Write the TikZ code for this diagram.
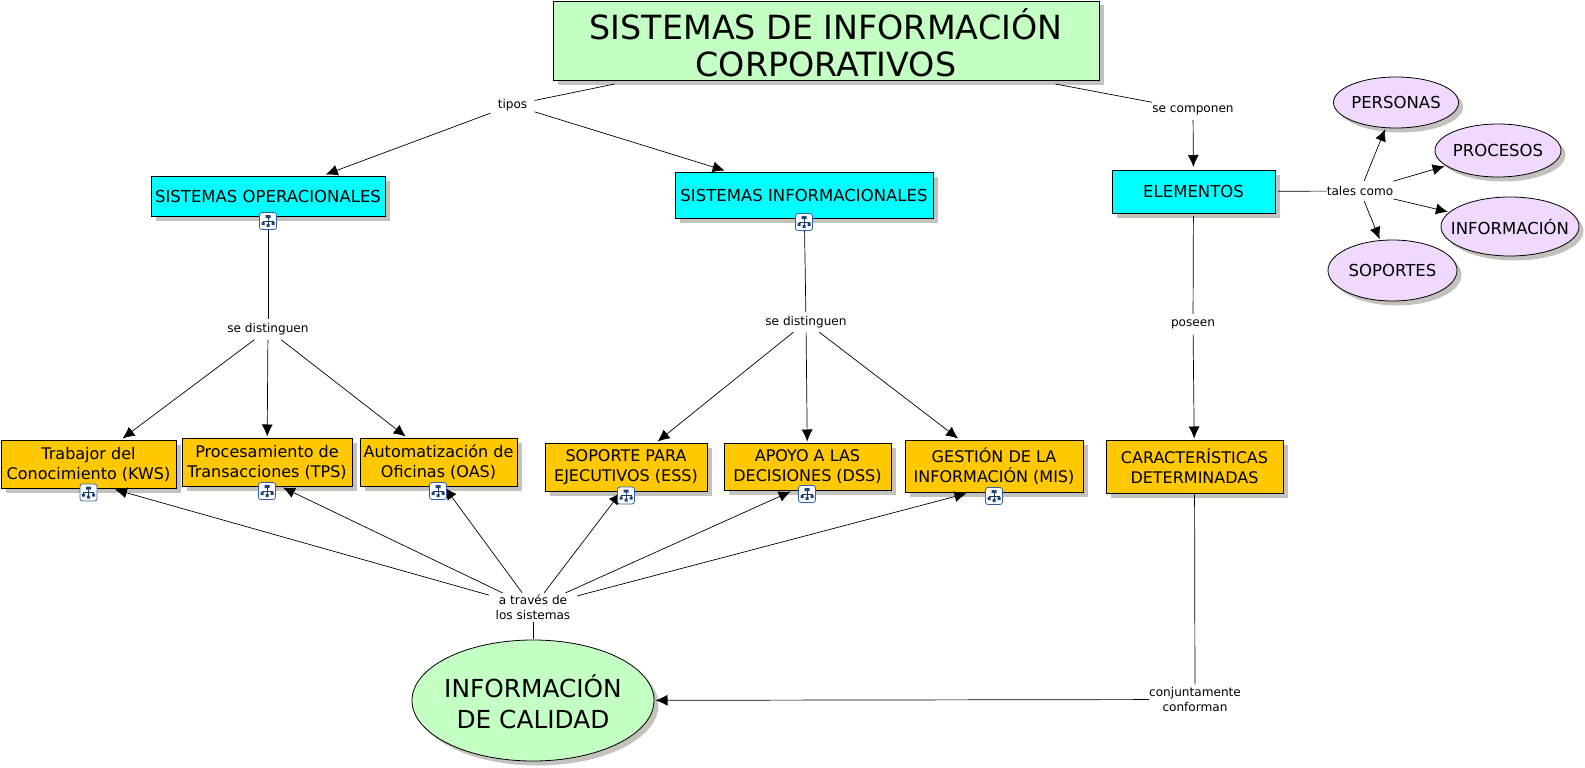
\documentclass[tikz,border=0pt]{standalone}
\usepackage{fontspec}
\setmainfont{DejaVu Sans}
\usetikzlibrary{arrows.meta,shapes.geometric,shadows}

\definecolor{mintfill}{HTML}{C4FFC4}
\definecolor{aquafill}{HTML}{00FFFF}
\definecolor{amberfill}{HTML}{FFC800}
\definecolor{lilacfill}{HTML}{F0D8FF}
\definecolor{shadowgray}{HTML}{C4C2BC}
\definecolor{iconblue}{HTML}{2F5FB0}

\tikzset{
  boxshadow/.style={drop shadow={shadow xshift=4.5pt,shadow yshift=-4.5pt,fill=shadowgray,opacity=1}},
  concept/.style={draw=black,line width=.8pt,align=center,inner sep=0pt,outer sep=1.5pt,boxshadow,
    font=\fontsize{16.5}{20}\selectfont},
  titlebox/.style={concept,fill=mintfill,outer sep=4pt,minimum width=546pt,minimum height=79pt,
    font=\fontsize{33.3}{36.5}\selectfont},
  typebox/.style={concept,fill=aquafill},
  itembox/.style={concept,fill=amberfill,font=\fontsize{16}{20}\selectfont},
  oval/.style={concept,ellipse,fill=lilacfill,inner xsep=-15pt},
  bigoval/.style={concept,ellipse,fill=mintfill,inner xsep=-5pt,font=\fontsize{24.8}{31}\selectfont},
  linkword/.style={align=center,inner sep=0pt,font=\fontsize{12.1}{15}\selectfont,minimum height=20pt},
  link/.style={line width=.7pt},
  linkto/.style={link,-{Latex[length=12pt,width=11pt]}},
  hiericon/.pic={
    \draw[iconblue,fill=white,rounded corners=2.5pt,line width=.8pt] (-8.5,-8.5) rectangle (8.5,8.5);
    \draw[iconblue!60!black,line width=.6pt] (0,-3) -- (0,3) (-5,1) -- (-5,0) -- (5,0) -- (5,1);
    \fill[iconblue!70!black] (-2.5,-6) rectangle (2.5,-3) (-6.5,1) rectangle (-3.5,4)
      (-1.5,3) rectangle (1.5,6) (3.5,1) rectangle (6.5,4);
  }
}

\begin{document}
\begin{tikzpicture}[x=1pt,y=-1pt]
\useasboundingbox (0,0) rectangle (1585,768);

\draw (826,40.5) node (title) [titlebox] {\rule{0pt}{35pt}SISTEMAS DE INFORMACIÓN\\CORPORATIVOS};

\draw (512.5,105) node (tipos) [linkword,minimum width=44pt] {tipos};
\draw (1193,110) node (componen) [linkword] {se componen};
\draw (title) [link] -- (tipos);
\draw (title) [link] -- (componen);

\draw (268,196) node (opera) [typebox,minimum width=234pt,minimum height=40pt] {SISTEMAS OPERACIONALES};
\draw (804,195) node (infor) [typebox,minimum width=258pt,minimum height=46pt] {SISTEMAS INFORMACIONALES};
\draw (1193.5,191.5) node (elem) [typebox,outer sep=3pt,minimum width=163pt,minimum height=43pt] {ELEMENTOS};
\draw (tipos) [linkto] -- (opera);
\draw (tipos) [linkto] -- (infor);
\draw (componen) [linkto] -- (elem);

\draw (1360,191) node (tales) [linkword] {tales como};
\draw (elem) [link] -- (tales);
\draw (1396,102.5) node (personas) [oval,minimum width=125pt,minimum height=51pt] {PERSONAS};
\draw (1498,150.5) node (procesos) [oval,minimum width=126pt,minimum height=53pt] {PROCESOS};
\draw (1510,226.5) node (informa) [oval,minimum width=138pt,minimum height=59pt] {INFORMACIÓN};
\draw (1392.5,270.5) node (soportes) [oval,minimum width=129pt,minimum height=61pt] {SOPORTES};
\draw (tales) [linkto] -- (personas);
\draw (tales) [linkto] -- (procesos);
\draw (tales) [linkto] -- (informa);
\draw (tales) [linkto] -- (soportes);

\draw (268,329.5) node (dist1) [linkword] {se distinguen};
\draw (opera) [link] -- (dist1);
\draw (88.5,464) node (kws) [itembox,minimum width=175pt,minimum height=48pt] {Trabajor del\\Conocimiento (KWS)};
\draw (267,462) node (tps) [itembox,minimum width=170pt,minimum height=48pt] {Procesamiento de\\Transacciones (TPS)};
\draw (438.5,462) node (oas) [itembox,minimum width=157pt,minimum height=48pt] {Automatización de\\Oficinas (OAS)};
\draw (dist1) [linkto] -- (kws);
\draw (dist1) [linkto] -- (tps);
\draw (dist1) [linkto] -- (oas);

\draw (806,322) node (dist2) [linkword] {se distinguen};
\draw (infor) [link] -- (dist2);
\draw (626,467) node (ess) [itembox,minimum width=162pt,minimum height=48pt] {SOPORTE PARA\\EJECUTIVOS (ESS)};
\draw (807.5,466.5) node (dss) [itembox,minimum width=167pt,minimum height=47pt] {APOYO A LAS\\DECISIONES (DSS)};
\draw (994,466) node (mis) [itembox,minimum width=178pt,minimum height=52pt] {GESTIÓN DE LA\\INFORMACIÓN (MIS)};
\draw (dist2) [linkto] -- (ess);
\draw (dist2) [linkto] -- (dss);
\draw (dist2) [linkto] -- (mis);

\draw (1193,324) node (poseen) [linkword] {poseen};
\draw (1194.5,466.5) node (carac) [itembox,minimum width=177pt,minimum height=53pt] {CARACTERÍSTICAS\\DETERMINADAS};
\draw (elem) [link] -- (poseen);
\draw (poseen) [linkto] -- (carac);

\draw (1195,699.5) node (conforman) [linkword,minimum height=30pt] {conjuntamente\\conforman};
\draw (533,700.5) node (calidad) [bigoval,minimum width=242pt,minimum height=121pt] {\rule{0pt}{25pt}INFORMACIÓN\\DE CALIDAD};
\draw (carac) [link] -- (conforman);
\draw (conforman) [linkto] -- (calidad);

\draw (533,607.5) node (traves) [linkword,minimum width=88pt,minimum height=29pt] {a través de\\los sistemas};
\draw (calidad) [link] -- (traves);
\draw (traves) [linkto] -- (kws.316);
\draw (traves) [linkto] -- (tps.302);
\draw (traves) [linkto] -- (oas.284);
\draw (traves) [linkto] -- (ess.258);
\draw (traves) [linkto] -- (dss.236);
\draw (traves) [linkto] -- (mis.225);

\foreach \x/\y in {268/221,804/222,88.5/492.5,267/491,438/491,626/495.5,807/494,994/496}
  \draw (\x,\y) pic {hiericon};
\end{tikzpicture}
\end{document}
